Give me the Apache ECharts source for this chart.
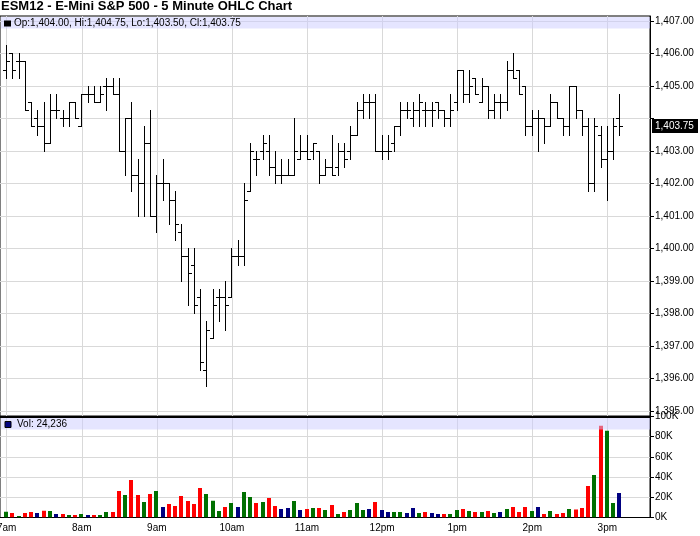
<!DOCTYPE html>
<html><head><meta charset="utf-8">
<script src="https://cdn.jsdelivr.net/npm/echarts@6/dist/echarts.min.js"></script>
<style>html,body{margin:0;padding:0;background:#fff}#c{width:700px;height:536px}</style>
</head><body><div id="c"></div>
<script>
// ---- data ----
const titleText = 'ESM12 - E-Mini S&P 500 - 5 Minute OHLC Chart';
const startMinute = 420;   // first bar 7:00
const barMinutes = 5;
const prevClose = 1405.25; // close of the bar before the first shown
const opens = [
1405.5,1406,1405.75,1405.75,1404.5,1404,1403.75,1403.25,1404.25,1404,
1404,1404.5,1403.75,1404.75,1404.75,1404.5,1405,1405,1404.75,1403,
1404,1402.25,1402,1403.25,1401,1402,1402,1401.5,1400.5,1399.75,
1399.5,1398.5,1396.25,1397.25,1398.5,1398.5,1398.5,1399.75,1399.75,1401.75,
1402.75,1403,1403,1402.5,1402.25,1402.25,1402.25,1402.75,1403,1403,
1403,1402.25,1402.5,1402.5,1403,1403,1403.5,1404.25,1404.5,1404.5,
1403,1403,1403.25,1403.75,1404.25,1404,1404.25,1404.25,1404.25,1404.5,
1404.25,1404,1404.5,1405.5,1404.75,1405.25,1404.5,1405,1404.25,1404.5,
1404.5,1405.5,1405.5,1405,1403.75,1404,1404,1403.75,1404.5,1404,
1403.75,1405,1404.25,1403.75,1402,1403.5,1402.75,1403,1404];
const highs = [
1406.25,1406,1406,1405.75,1404.5,1404.25,1404.5,1404.75,1404.75,1404.25,
1404.5,1404.5,1404.75,1405,1405,1405,1405.25,1405.25,1405.25,1404,
1404.5,1402.75,1403.75,1404.25,1402.25,1402.75,1402,1401.75,1400.75,1400,
1400,1398.75,1397.75,1398.75,1398.75,1399,1400,1400.25,1402,1403.25,
1403,1403.5,1403.5,1403,1402.75,1402.75,1404,1403.5,1403.5,1403.25,
1403,1402.75,1403.5,1403.25,1403.25,1403.75,1404.5,1404.75,1404.75,1404.75,
1403.5,1403.5,1403.75,1404.5,1404.5,1404.5,1404.75,1404.5,1404.5,1404.5,
1404.25,1404.75,1405.5,1405.5,1405.5,1405.25,1405.25,1405,1404.75,1404.75,
1405.75,1406,1405.5,1405,1404.25,1404.25,1404,1404.75,1404.5,1404,
1405,1405,1404.25,1404,1404,1403.75,1403.75,1404,1404.75];
const lows = [
1405.25,1405.25,1405.25,1404.25,1403.75,1403.5,1403,1403.25,1404,1403.75,
1403.75,1404,1403.75,1404.5,1404.5,1404.5,1404.25,1404.75,1403,1402.25,
1401.75,1401,1401,1401,1400.5,1401.5,1400.75,1400.25,1399,1398.25,
1398,1396.25,1395.75,1397.25,1397.75,1397.5,1398.5,1399.5,1399.5,1401.75,
1402.25,1402.75,1402.25,1402,1402,1402.25,1402.25,1402.75,1402.75,1402.75,
1402,1402.25,1402.25,1402.25,1402.5,1402.75,1403.5,1404,1404,1403,
1402.75,1402.75,1403,1403.5,1404,1403.75,1403.75,1403.75,1403.75,1404,
1403.75,1403.75,1404.25,1404.5,1404.5,1404.75,1404.5,1404,1404,1404,
1404.25,1405.25,1404.75,1403.5,1403.5,1403,1403.25,1403.75,1404,1403.5,
1403.5,1404,1403.5,1401.75,1401.75,1402.5,1401.5,1402.75,1403.5];
const closes = [
1405.75,1405.5,1405.75,1404.25,1403.75,1403.75,1403.25,1404.25,1404.25,1404,
1404.5,1404,1404.75,1404.75,1404.5,1404.75,1405,1404.75,1403,1404,
1402.25,1402,1403.25,1401,1402,1402,1401.5,1400.75,1399.75,1399.25,
1398.25,1396.5,1397.5,1398.25,1398.5,1398.25,1399.75,1399.75,1401.5,1403,
1402.75,1403.25,1402.5,1402.25,1402.25,1402.25,1403,1403,1402.75,1403.25,
1402.25,1402.5,1402.25,1403,1402.75,1403.5,1404.25,1404.5,1404.5,1403,
1403,1403,1403.75,1404.25,1404.25,1404.25,1404.5,1404.25,1404.25,1404.25,
1404,1404.25,1405.5,1404.75,1405,1404.75,1405,1404.25,1404.5,1404.5,
1405.5,1405.25,1404.75,1403.75,1404,1404,1403.75,1404.5,1404,1403.75,
1405,1404.25,1403.75,1402,1403.75,1402.75,1403,1403.75,1403.75];
const volumes = [
5800,4500,1500,4500,5500,4500,6800,6500,3500,3500,
2500,2500,3500,2500,2500,2500,5500,5500,26300,22300,
37200,22300,15400,23300,26300,10400,13400,11400,21300,16400,
13400,29300,23300,16700,6500,10400,14400,10400,25300,20300,
14400,15400,19300,11400,8400,9400,16400,7400,8400,9400,
9400,7400,12400,3500,5500,7400,14400,7400,8400,15400,
7400,5500,5500,5500,4500,9400,4500,5500,4500,3500,
3500,3500,7400,8400,6500,5500,5500,6500,4500,5500,
8400,10400,5500,10400,6500,10400,3500,6500,3500,4500,
8400,7800,9400,31200,42200,90800,85800,14400,24236];
const hourTicks = [420,480,540,600,660,720,780,840,900];
const priceTicks = [1395,1396,1397,1398,1399,1400,1401,1402,1403,1404,1405,1406,1407];
const volumeTicks = [0,20000,40000,60000,80000,100000];

// ---- build ----
const FONT = '"Liberation Sans", Arial, sans-serif';
const GRID_C = '#d9d9d9';
const UP = '#007000', DOWN = '#ff0000', FLAT = '#000080';
const n = closes.length;
const last = n - 1;
const lastClose = closes[last];
const xMin = 414.65, xMax = 934.12;
const fmtPrice = v => Number(v).toLocaleString('en-US',{minimumFractionDigits:2, maximumFractionDigits:2});
const fmtTime = m => { const h = Math.round(m/60); return h < 12 ? h+'am' : (h === 12 ? '12pm' : (h-12)+'pm'); };
const fmtVol = v => (v/1000) + 'K';

const ohlcData = closes.map((c,i) => [startMinute + barMinutes*i, opens[i], highs[i], lows[i], c]);
const volData = volumes.map((v,i) => [startMinute + barMinutes*i, v]);
function barColor(i){
  const p = i === 0 ? prevClose : closes[i-1];
  return closes[i] > p ? UP : (closes[i] < p ? DOWN : FLAT);
}

function renderOHLC(params, api){
  const x = api.value(0);
  const pO = api.coord([x, api.value(1)]);
  const pH = api.coord([x, api.value(2)]);
  const pL = api.coord([x, api.value(3)]);
  const pC = api.coord([x, api.value(4)]);
  const px = Math.floor(pH[0]);
  const xc = px + 0.5;
  const yo = Math.round(pO[1]) + 0.5, yc = Math.round(pC[1]) + 0.5;
  const st = {stroke:'#000', lineWidth:1};
  return {type:'group', children:[
    {type:'line', shape:{x1:xc, y1:Math.round(pH[1]), x2:xc, y2:Math.round(pL[1])+1}, style:st},
    {type:'line', shape:{x1:px-3, y1:yo, x2:px, y2:yo}, style:st},
    {type:'line', shape:{x1:px+1, y1:yc, x2:px+4, y2:yc}, style:st}
  ]};
}
function renderVol(params, api){
  const x = api.value(0);
  const p0 = api.coord([x, 0]);
  const p1 = api.coord([x, api.value(1)]);
  const px = Math.floor(p0[0]);
  return {type:'rect', shape:{x:px-2, y:p1[1], width:4, height:p0[1]-p1[1]},
          style:{fill: barColor(params.dataIndex)}};
}

const legendText = 'Op:' + fmtPrice(opens[last]) + ', Hi:' + fmtPrice(highs[last]) +
  ', Lo:' + fmtPrice(lows[last]) + ', Cl:' + fmtPrice(closes[last]);
const volText = 'Vol: ' + volumes[last].toLocaleString('en-US');

const chart = echarts.init(document.getElementById('c'), null, {renderer:'canvas'});
const staticGraphics = [
  {id:'title', type:'text', x:1, y:0, z:100, style:{text:titleText, fill:'#000', font:'bold 13px '+FONT, verticalAlign:'top'}},
  {id:'pband', type:'rect', z:100, shape:{x:1, y:17, width:649, height:11.5}, style:{fill:'rgba(204,204,255,0.5)'}},
  {id:'psq', type:'rect', z:101, shape:{x:4, y:20.5, width:7, height:6}, style:{fill:'#000'}},
  {id:'ptxt', type:'text', x:14, y:23.5, z:101, style:{text:legendText, fill:'#000', font:'10px '+FONT, verticalAlign:'middle'}},
  {id:'sep', type:'rect', z:102, shape:{x:0, y:416, width:651, height:2}, style:{fill:'#000'}},
  {id:'vband', type:'rect', z:100, shape:{x:1, y:418, width:649, height:11.5}, style:{fill:'rgba(204,204,255,0.5)'}},
  {id:'vsq', type:'rect', z:101, shape:{x:5, y:421.5, width:6, height:6}, style:{fill:FLAT, stroke:'#000', lineWidth:1}},
  {id:'vtxt', type:'text', x:17, y:424.5, z:101, style:{text:volText, fill:'#000', font:'10px '+FONT, verticalAlign:'middle'}}
];
chart.setOption({
  animation:false,
  backgroundColor:'#fff',
  textStyle:{fontFamily:FONT},
  grid:[
    {left:0, right:50, top:16, height:400, show:true, borderColor:'#000', borderWidth:1, backgroundColor:'transparent', containLabel:false},
    {left:0, right:50, top:416.5, height:101, show:true, borderColor:'#000', borderWidth:1, backgroundColor:'transparent', containLabel:false}
  ],
  xAxis:[
    {type:'value', gridIndex:0, min:xMin, max:xMax,
     axisLine:{show:false}, axisTick:{show:false, customValues:hourTicks},
     axisLabel:{show:false, customValues:hourTicks},
     splitLine:{show:true, lineStyle:{color:GRID_C, width:1}}},
    {type:'value', gridIndex:1, min:xMin, max:xMax,
     axisLine:{show:true, onZero:false, lineStyle:{color:'#000', width:1}},
     axisTick:{show:false, customValues:hourTicks},
     axisLabel:{show:true, customValues:hourTicks.slice(1), formatter:fmtTime, color:'#000', fontSize:10, fontFamily:FONT, margin:6},
     splitLine:{show:true, lineStyle:{color:GRID_C, width:1}}}
  ],
  yAxis:[
    {type:'value', gridIndex:0, position:'right', min:1394.84, max:1407.15, scale:true,
     axisLine:{show:true, onZero:false, lineStyle:{color:'#000', width:1}},
     axisTick:{show:true, length:4, customValues:priceTicks, lineStyle:{color:'#000'}},
     axisLabel:{show:true, customValues:priceTicks.filter(v => Math.abs(v - lastClose) >= 0.5),
                formatter:fmtPrice, color:'#000', fontSize:10, fontFamily:FONT, margin:5},
     splitLine:{show:true, lineStyle:{color:GRID_C, width:1}}},
    {type:'value', gridIndex:1, position:'right', min:0, max:100000,
     axisLine:{show:true, onZero:false, lineStyle:{color:'#000', width:1}},
     axisTick:{show:true, length:4, customValues:volumeTicks, lineStyle:{color:'#000'}},
     axisLabel:{show:true, customValues:volumeTicks, formatter:fmtVol, color:'#000', fontSize:10, fontFamily:FONT, margin:5},
     splitLine:{show:true, lineStyle:{color:GRID_C, width:1}}}
  ],
  series:[
    {type:'custom', name:'OHLC', xAxisIndex:0, yAxisIndex:0, data:ohlcData, renderItem:renderOHLC,
     encode:{x:0, y:[1,2,3,4]}, clip:true, z:5},
    {type:'custom', name:'Volume', xAxisIndex:1, yAxisIndex:1, data:volData, renderItem:renderVol,
     encode:{x:0, y:1}, clip:true, z:5}
  ],
  graphic: staticGraphics
});
// current-price marker and the partly cut first hour label, positioned through the axis scales
const yLast = chart.convertToPixel({yAxisIndex:0}, lastClose);
const xFirstHour = chart.convertToPixel({xAxisIndex:1}, hourTicks[0]);
const yAxisBottom = chart.convertToPixel({yAxisIndex:1}, 0);
chart.setOption({graphic: staticGraphics.concat([
  {id:'lastBox', type:'rect', z:103, shape:{x:652, y:Math.round(yLast)-7, width:46, height:14}, style:{fill:'#000'}},
  {id:'lastTxt', type:'text', z:104, x:655, y:Math.round(yLast), style:{text:fmtPrice(lastClose), fill:'#fff', font:'10px '+FONT, verticalAlign:'middle'}},
  {id:'firstHour', type:'text', z:104, x:xFirstHour, y:yAxisBottom + 6, style:{text:fmtTime(hourTicks[0]), fill:'#000', font:'10px '+FONT, align:'center', verticalAlign:'top'}}
])});
</script></body></html>
